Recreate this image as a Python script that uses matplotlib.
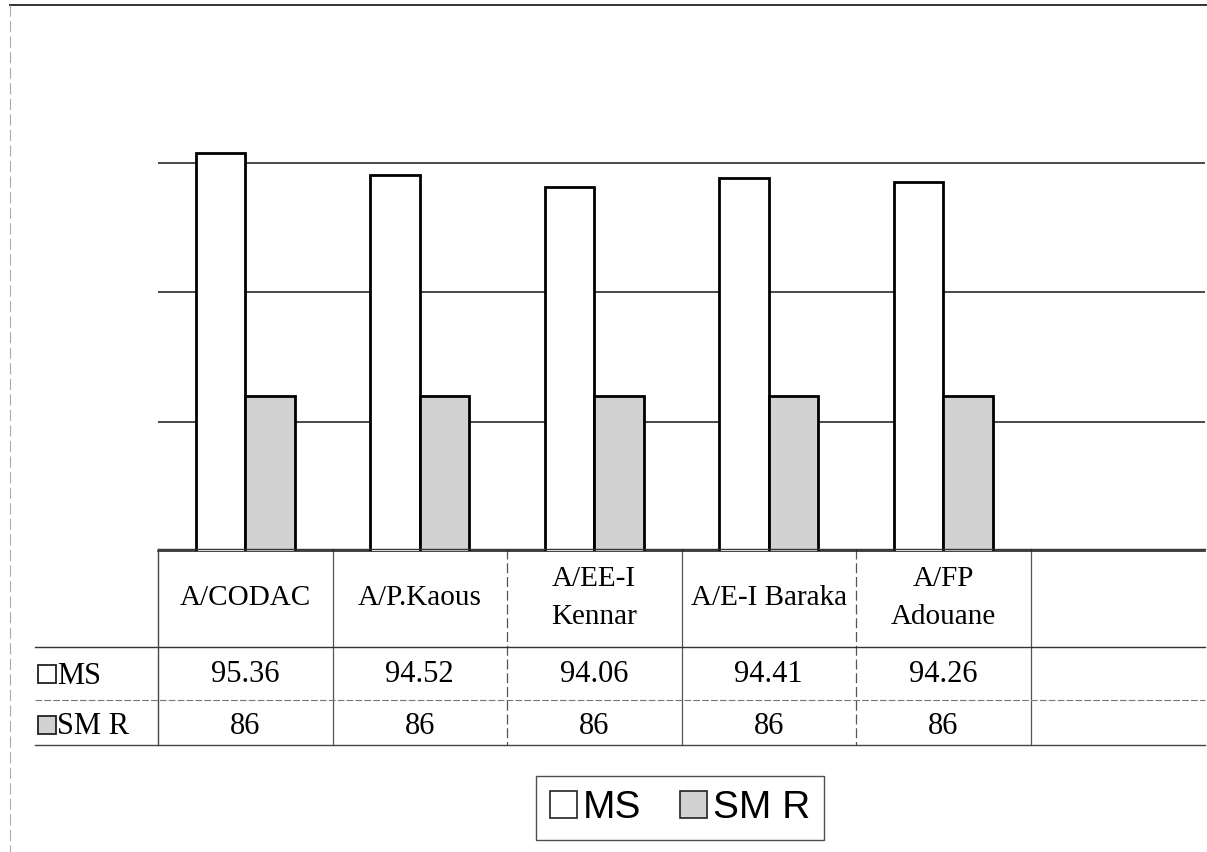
import numpy as np
import matplotlib.pyplot as plt
from matplotlib.patches import Patch, Rectangle
from matplotlib.transforms import blended_transform_factory

# chart data
categories = ["A/CODAC", "A/P.Kaous", "A/EE-I\nKennar", "A/E-I Baraka", "A/FP\nAdouane"]
ms_vals    = [95.36, 94.52, 94.06, 94.41, 94.26]
smr_vals   = [86, 86, 86, 86, 86]
ms_text    = ["95.36", "94.52", "94.06", "94.41", "94.26"]
smr_text   = ["86", "86", "86", "86", "86"]
series     = ["MS", "SM R"]

W, H = 1207, 852
ms_col  = 'white'
smr_col = '#d2d2d2'
grid_col = '#2a2a2a'
line_col = '#555555'
serif = 'Liberation Serif'
sans  = 'Liberation Sans'

fig = plt.figure(figsize=(W/100, H/100), dpi=100)
fig.patch.set_facecolor('white')

# bar area (one empty slot on the right, like the table)
n_slots = len(categories) + 1
ax = fig.add_axes([158/W, 1 - 551/H, (1205-158)/W, (551-33)/H])
ax.set_xlim(-0.5, n_slots - 0.5)
ax.set_ylim(80, 100)
ax.set_yticks([85, 90, 95])
ax.yaxis.grid(True, color=grid_col, lw=1.2)
ax.set_axisbelow(True)
ax.tick_params(left=False, bottom=False, labelleft=False, labelbottom=False)
for s in ['left', 'right', 'top']:
  ax.spines[s].set_visible(False)
ax.spines['bottom'].set_color('#222222')
ax.spines['bottom'].set_linewidth(1.2)

x = np.arange(len(categories))
w = 0.285
ax.bar(x - w/2, ms_vals,  w, bottom=0, color=ms_col,  edgecolor='black', lw=2.0, zorder=3)
ax.bar(x + w/2, smr_vals, w, bottom=0, color=smr_col, edgecolor='black', lw=2.0, zorder=3)

# overlay in pixel units for the data table and frame
ov = fig.add_axes([0, 0, 1, 1], facecolor='none')
ov.set_xlim(0, W); ov.set_ylim(H, 0); ov.axis('off')
tr = blended_transform_factory(ax.transData, ov.transData)

# table grid
ov.plot([158, 1205], [549, 549], color='#333333', lw=1.0)
ov.plot([35, 1205], [647, 647], color='#333333', lw=1.0)
ov.plot([35, 1205], [700, 700], color='#777777', lw=0.8, ls=(0, (6, 2)))
ov.plot([35, 1205], [745, 745], color='#444444', lw=1.0)
ov.plot([158, 158], [549, 745], color='#444444', lw=1.0)
for i in range(n_slots - 1):
  ls = '-' if i % 2 == 0 else (0, (8, 3))
  ax.plot([i + 0.5, i + 0.5], [549, 745], color=line_col, lw=0.9, ls=ls,
          transform=tr, clip_on=False)

# header row and values
for i, name in enumerate(categories):
  ax.text(i, 598, name, transform=tr, ha='center', va='center', family=serif,
          fontsize=21, linespacing=1.55, clip_on=False)
  ax.text(i, 675, ms_text[i], transform=tr, ha='center', va='center',
          family=serif, fontsize=22, clip_on=False)
  ax.text(i, 726, smr_text[i], transform=tr, ha='center', va='center',
          family=serif, fontsize=22, clip_on=False)

# row labels with their key squares
for yc, lab, col in [(675, series[0], ms_col), (726, series[1], smr_col)]:
  ov.add_patch(Rectangle((38, yc - 10), 18, 18, facecolor=col, edgecolor='#222222', lw=1.3))
  ov.text(57, yc + 1, lab, ha='left', va='center', family=serif, fontsize=22)

# legend
handles = [Patch(facecolor=ms_col, edgecolor='#222222', lw=1.2, label=series[0]),
           Patch(facecolor=smr_col, edgecolor='#222222', lw=1.2, label=series[1])]
leg = fig.legend(handles=handles, loc='center', ncol=2,
                 bbox_to_anchor=(680/W, 1 - 808/H), frameon=True, fancybox=False,
                 prop={'family': sans, 'size': 28}, handlelength=0.7, handleheight=0.7,
                 handletextpad=0.15, columnspacing=1.0, borderpad=0.35)
leg.get_frame().set_edgecolor('#222222')
leg.get_frame().set_linewidth(1.0)

# outer frame
ov.plot([10, 1207], [5, 5], color='#333333', lw=1.4)
ov.plot([10, 10], [5, 852], color='#aaaaaa', lw=0.8, ls=(0, (10, 4)))

fig.savefig('out.png', dpi=100)
